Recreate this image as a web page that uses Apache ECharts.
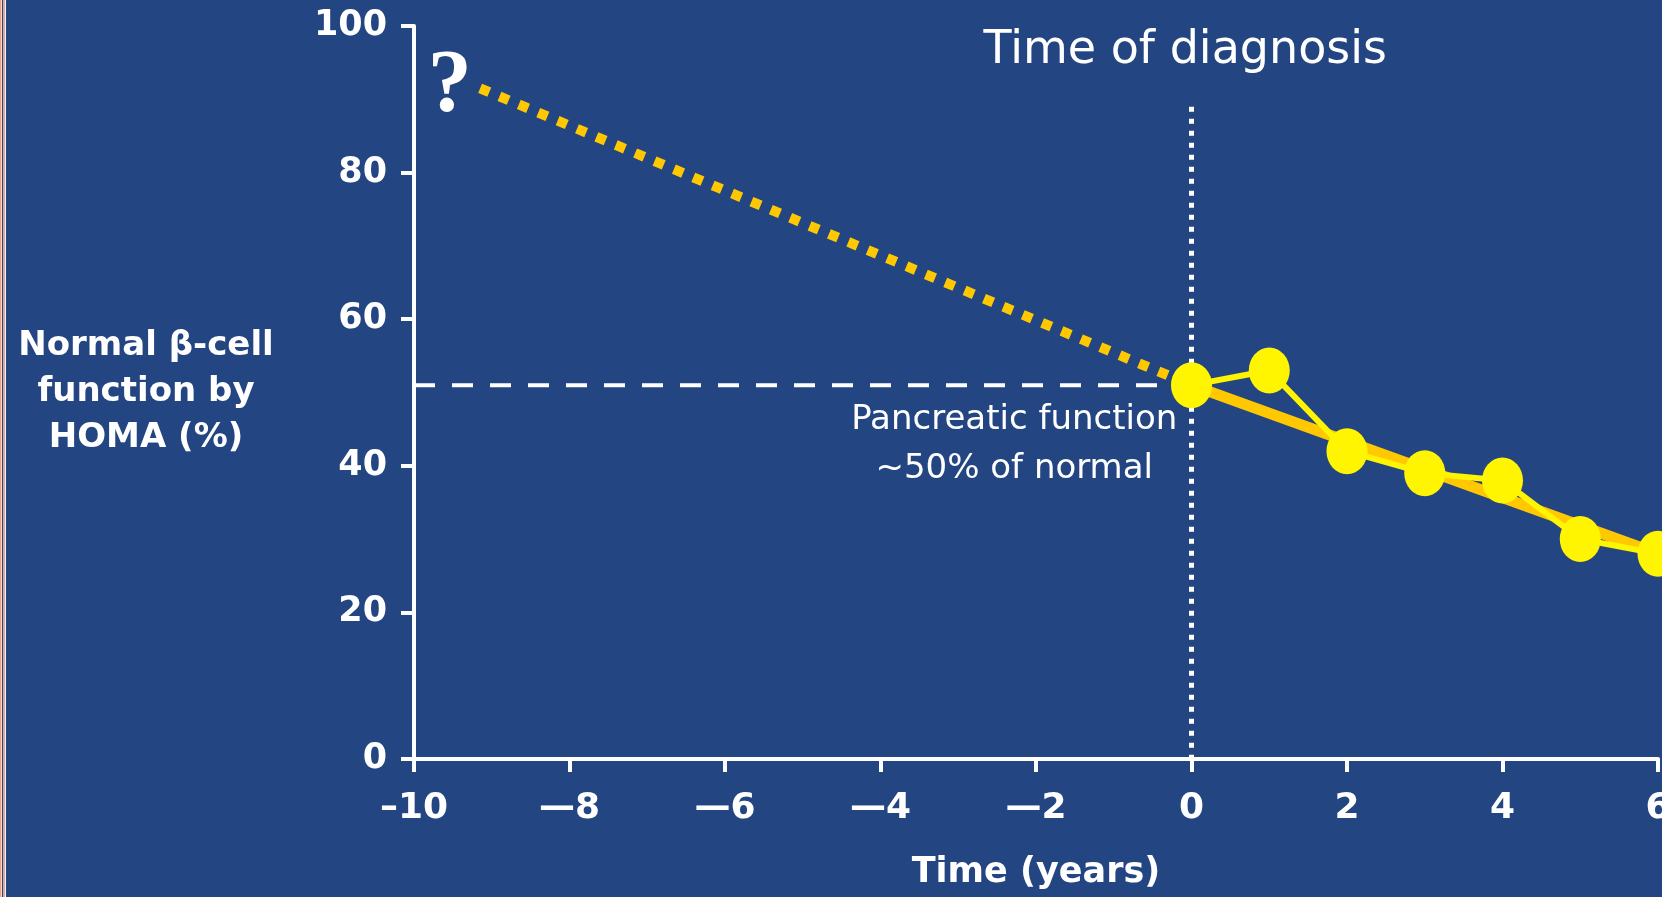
<!DOCTYPE html>
<html>
<head>
<meta charset="utf-8">
<title>β-cell function over time</title>
<script src="https://cdn.jsdelivr.net/npm/echarts@6/dist/echarts.min.js"></script>
<style>
  html, body { margin: 0; padding: 0; background: #234581; }
  #chart { width: 1662px; height: 897px; }
</style>
</head>
<body>
<div id="chart"></div>
<script>
// Observed β-cell function (HOMA %) by year since diagnosis
const years = [0, 1, 2, 3, 4, 5, 6];
const betaCell = [51, 53, 42, 39, 38, 30, 28];

// Extrapolated decline before diagnosis: [year, %]
const projectionYears = [-9.15, 0];
const projectionValues = [91.5, 51];

// Linear trend through the observed years
const trendYears = [0, 6];
const trendValues = [51, 28];

// Reference level at diagnosis (~50% of normal)
const diagnosisLevel = 51;
const diagnosisYear = 0;
const diagnosisLineTop = 89;

// Axis ticks
const xTicks = [-10, -8, -6, -4, -2, 0, 2, 4, 6];
const xTickLabels = ['–10', '—8', '—6', '—4', '—2', '0', '2', '4', '6'];
const yTicks = [0, 20, 40, 60, 80, 100];

const FONT = '"DejaVu Sans", "Noto Sans", sans-serif';
const WHITE = '#ffffff';
const GOLD = '#FFC800';
const YELLOW = '#FFF500';

const pairs = (xs, ys) => xs.map((x, i) => [x, ys[i]]);

const chart = echarts.init(document.getElementById('chart'), null, { renderer: 'canvas' });

chart.setOption({
  backgroundColor: '#234581',
  animation: false,
  grid: { left: 414, right: 4, top: 26, bottom: 138, containLabel: false, outerBoundsMode: 'none' },
  xAxis: {
    type: 'value',
    min: xTicks[0],
    max: xTicks[xTicks.length - 1],
    interval: 2,
    name: 'Time (years)',
    nameLocation: 'middle',
    nameGap: 96,
    nameTextStyle: { color: WHITE, fontFamily: FONT, fontWeight: 'bold', fontSize: 35 },
    axisLine: { show: true, onZero: false, lineStyle: { color: WHITE, width: 4 } },
    axisTick: { show: true, inside: false, length: 13, lineStyle: { color: WHITE, width: 4 } },
    splitLine: { show: false },
    axisLabel: {
      color: WHITE, fontFamily: FONT, fontWeight: 'bold', fontSize: 36, margin: 32,
      showMinLabel: true, showMaxLabel: true, hideOverlap: false,
      formatter: v => { const i = xTicks.indexOf(v); return i >= 0 ? xTickLabels[i] : ''; }
    }
  },
  yAxis: {
    type: 'value',
    min: yTicks[0],
    max: yTicks[yTicks.length - 1],
    interval: 20,
    name: 'Normal β-cell\nfunction by\nHOMA (%)',
    nameLocation: 'middle',
    nameRotate: 0,
    nameGap: 268,
    nameTextStyle: {
      color: WHITE, fontFamily: FONT, fontWeight: 'bold', fontSize: 34,
      lineHeight: 46, align: 'center', verticalAlign: 'middle'
    },
    axisLine: { show: true, onZero: false, lineStyle: { color: WHITE, width: 4 } },
    axisTick: { show: true, inside: false, length: 13, lineStyle: { color: WHITE, width: 4 } },
    splitLine: { show: false },
    axisLabel: { color: WHITE, fontFamily: FONT, fontWeight: 'bold', fontSize: 35, margin: 27 }
  },
  graphic: [
    // thin frame stripes along the left edge
    { type: 'rect', shape: { x: 0, y: 0, width: 1, height: 897 }, style: { fill: '#E9A58E' }, silent: true },
    { type: 'rect', shape: { x: 1, y: 0, width: 1, height: 897 }, style: { fill: '#F6D9CF' }, silent: true },
    { type: 'rect', shape: { x: 3, y: 0, width: 2, height: 897 }, style: { fill: '#E9A58E' }, silent: true },
    { type: 'rect', shape: { x: 5, y: 0, width: 1, height: 897 }, style: { fill: '#F3F3F6' }, silent: true }
  ],
  series: [
    {
      name: 'Reference level',
      type: 'line',
      data: [[xTicks[0], diagnosisLevel], [diagnosisYear, diagnosisLevel]],
      symbol: 'none',
      lineStyle: { color: WHITE, width: 4, type: [21, 17], cap: 'butt' },
      z: 2
    },
    {
      name: 'Time of diagnosis',
      type: 'line',
      data: [[diagnosisYear, diagnosisLineTop], [diagnosisYear, 0]],
      symbol: 'none',
      lineStyle: { color: WHITE, width: 5, type: [5, 7], cap: 'butt' },
      z: 2
    },
    {
      name: 'Projected decline',
      type: 'line',
      data: pairs(projectionYears, projectionValues),
      symbol: 'none',
      lineStyle: { color: GOLD, width: 10, type: [10, 11], cap: 'butt' },
      z: 3
    },
    {
      name: 'Trend',
      type: 'line',
      data: pairs(trendYears, trendValues),
      symbol: 'none',
      lineStyle: { color: GOLD, width: 11, cap: 'butt' },
      z: 4
    },
    {
      name: 'β-cell function',
      type: 'line',
      data: pairs(years, betaCell),
      symbol: 'circle',
      symbolSize: [41, 46],
      itemStyle: { color: YELLOW, borderWidth: 0 },
      lineStyle: { color: YELLOW, width: 6 },
      z: 5
    },
    {
      name: 'Annotations',
      type: 'scatter',
      symbolSize: 0,
      silent: true,
      z: 6,
      itemStyle: { opacity: 1 },
      label: { show: true, position: 'inside', color: WHITE, opacity: 1, formatter: '{b}' },
      data: [
        {
          name: 'Time of diagnosis', value: [-0.08, 96.6],
          label: { color: WHITE, fontFamily: FONT, fontSize: 46, fontWeight: 'normal' }
        },
        {
          name: 'Pancreatic function\n~50% of normal', value: [-2.28, 42.9],
          label: { color: WHITE, fontFamily: FONT, fontSize: 34, lineHeight: 49, fontWeight: 'normal', align: 'center' }
        },
        {
          name: '?', value: [-9.54, 91.6],
          label: { color: WHITE, fontFamily: '"Liberation Serif", "DejaVu Serif", serif', fontSize: 88, fontWeight: 'bold' }
        }
      ]
    }
  ]
});
</script>
</body>
</html>
